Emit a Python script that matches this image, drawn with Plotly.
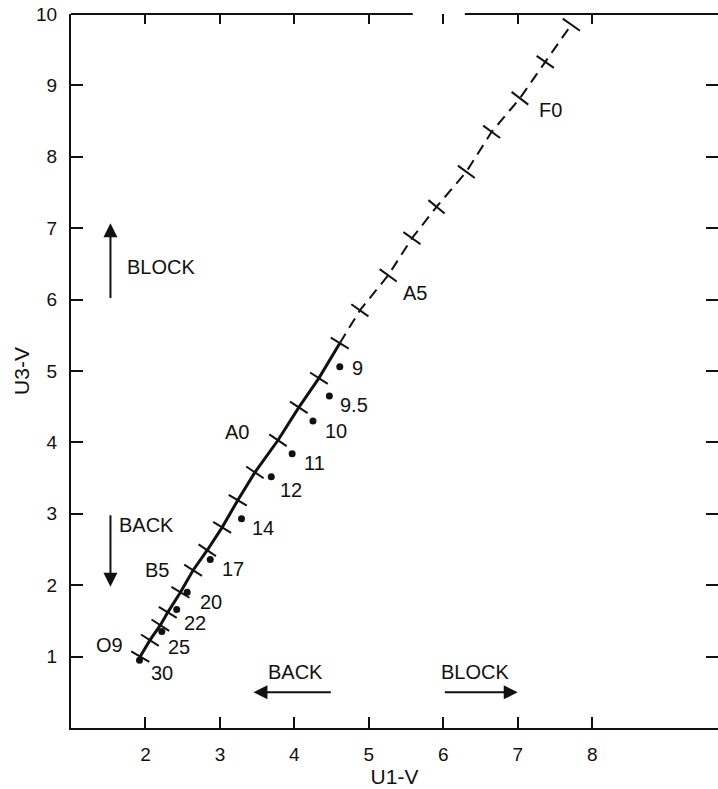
import numpy as np
import plotly.graph_objects as go

# ---------------- data ----------------
# main-sequence locus (positions of the spectral-type tick marks)
locus_x = [1.93, 2.06, 2.20, 2.30, 2.47, 2.64, 2.83, 3.03, 3.24, 3.47, 3.78, 4.06,
           4.33, 4.61, 4.88, 5.26, 5.58, 5.91, 6.31, 6.65, 7.03, 7.37, 7.72]
locus_y = [1.00, 1.23, 1.44, 1.62, 1.90, 2.21, 2.49, 2.81, 3.19, 3.58, 4.03, 4.49,
           4.90, 5.39, 5.85, 6.34, 6.86, 7.30, 7.79, 8.35, 8.82, 9.33, 9.85]
solid_last = 13                     # locus is solid up to this index, dashed after

spectral_types = ["O9", "B5", "A0", "A5", "F0"]
spectral_index = [0, 5, 10, 15, 20]

# observed points with their labels
star_x = [4.61, 4.47, 4.25, 3.97, 3.69, 3.29, 2.87, 2.56, 2.42, 2.22, 1.92]
star_y = [5.06, 4.65, 4.30, 3.84, 3.52, 2.93, 2.36, 1.90, 1.66, 1.35, 0.95]
star_labels = ["9", "9.5", "10", "11", "12", "14", "17", "20", "22", "25", "30"]

x_ticks = [2, 3, 4, 5, 6, 7, 8]
y_ticks = [1, 2, 3, 4, 5, 6, 7, 8, 9, 10]
right_ticks = [1, 2, 3, 4, 5, 6, 7, 8, 9]

x_title = "U1-V"
y_title = "U3-V"

# ---------------- layout geometry / style ----------------
W, H = 718, 789
M = dict(l=71, r=0, t=14, b=61)
x_range = [1, 9.69]
y_range = [0, 10]
INK = "#111111"
FONT = "Liberation Sans, Arial, sans-serif"

px_x = (W - M["l"] - M["r"]) / (x_range[1] - x_range[0])
px_y = (H - M["t"] - M["b"]) / (y_range[1] - y_range[0])

lx = np.array(locus_x)
ly = np.array(locus_y)
line_angle = np.degrees(np.arctan2(np.gradient(ly) * px_y, np.gradient(lx) * px_x))
tick_angle = (90 - line_angle).tolist()

# label offsets in pixels (dx right, dy down) relative to the dot
star_off = [(10, 1), (9, 9), (10, 10), (10, 9), (7, 13), (8, 9), (10, 9),
            (11, 10), (5, 14), (4, 15), (9, 13)]
spec_off = [(-31, -12), (-36, 0), (-41, -8), (27, 18), (31, 12)]

fig = go.Figure()

fig.add_trace(go.Scatter(
    x=locus_x[:solid_last + 1], y=locus_y[:solid_last + 1], mode="lines",
    line=dict(color=INK, width=3), hoverinfo="skip", showlegend=False))
fig.add_trace(go.Scatter(
    x=locus_x[solid_last:], y=locus_y[solid_last:], mode="lines",
    line=dict(color=INK, width=2, dash="11px,7px"), hoverinfo="skip", showlegend=False))
fig.add_trace(go.Scatter(
    x=locus_x, y=locus_y, mode="markers",
    marker=dict(symbol="line-ew", size=15, angle=tick_angle,
                line=dict(color=INK, width=2)),
    hoverinfo="skip", showlegend=False))
fig.add_trace(go.Scatter(
    x=star_x, y=star_y, mode="markers",
    marker=dict(symbol="circle", size=7, color=INK),
    showlegend=False))
# empty trace so the mirrored tick axes are drawn
fig.add_trace(go.Scatter(x=[], y=[], xaxis="x2", yaxis="y2", showlegend=False))

ann = []
for xv, yv, t, (dx, dy) in zip(star_x, star_y, star_labels, star_off):
    ann.append(dict(x=xv, y=yv, text=t, showarrow=False, xanchor="left",
                    yanchor="middle", xshift=dx, yshift=-dy,
                    font=dict(size=20, color=INK, family=FONT)))
for t, i, (dx, dy) in zip(spectral_types, spectral_index, spec_off):
    ann.append(dict(x=locus_x[i], y=locus_y[i], text=t, showarrow=False,
                    xanchor="center", yanchor="middle", xshift=dx, yshift=-dy,
                    font=dict(size=20, color=INK, family=FONT)))

# direction arrows: (tail, head) in data units
arrows = [((1.53, 6.00), (1.53, 7.07)),
          ((1.53, 3.00), (1.53, 1.98)),
          ((4.51, 0.50), (3.45, 0.50)),
          ((6.00, 0.50), (7.00, 0.50))]
for (tx, ty), (hx, hy) in arrows:
    ann.append(dict(x=hx, y=hy, ax=tx, ay=ty, xref="x", yref="y", axref="x", ayref="y",
                    text="", showarrow=True, arrowhead=2, arrowsize=1.4,
                    arrowwidth=2, arrowcolor=INK, standoff=0))
arrow_text = [("BLOCK", 1.73, 6.45, "left"), ("BACK", 1.62, 2.85, "left"),
              ("BACK", 4.02, 0.78, "center"), ("BLOCK", 6.43, 0.79, "center")]
for t, xv, yv, xa in arrow_text:
    ann.append(dict(x=xv, y=yv, text=t, showarrow=False, xanchor=xa, yanchor="middle",
                    font=dict(size=20, color=INK, family=FONT)))

# top frame line has a gap in the reference
top_gap = (5.59, 6.29)
shapes = [
    dict(type="line", xref="x", yref="paper", x0=x_range[0], x1=top_gap[0], y0=1, y1=1,
         line=dict(color=INK, width=2)),
    dict(type="line", xref="x", yref="paper", x0=top_gap[1], x1=x_range[1], y0=1, y1=1,
         line=dict(color=INK, width=2)),
]

axis_common = dict(showgrid=False, zeroline=False, automargin=False, fixedrange=True)
fig.update_layout(
    width=W, height=H, margin=M,
    paper_bgcolor="white", plot_bgcolor="white",
    font=dict(family=FONT, color=INK),
    xaxis=dict(range=x_range, showline=True, linecolor=INK, linewidth=2,
               ticks="inside", ticklen=11, tickwidth=2, tickcolor=INK,
               tickvals=x_ticks, tickfont=dict(size=19), ticklabelstandoff=8,
               title=dict(text=x_title, font=dict(size=21), standoff=6),
               **axis_common),
    yaxis=dict(range=y_range, showline=True, linecolor=INK, linewidth=2,
               ticks="inside", ticklen=12, tickwidth=2, tickcolor=INK,
               tickvals=y_ticks, tickfont=dict(size=19), ticklabelstandoff=8,
               title=dict(text=y_title, font=dict(size=21), standoff=1),
               **axis_common),
    xaxis2=dict(overlaying="x", side="top", matches="x", range=x_range,
                showline=False, ticks="inside", ticklen=10, tickwidth=2,
                tickcolor=INK, tickvals=x_ticks, showticklabels=False, **axis_common),
    yaxis2=dict(overlaying="y", side="right", matches="y", range=y_range,
                showline=False, ticks="inside", ticklen=12, tickwidth=2,
                tickcolor=INK, tickvals=right_ticks, showticklabels=False, **axis_common),
    annotations=ann, shapes=shapes, showlegend=False,
)

# remove the browser's default 8px body margin so the figure fills the window
fig.write_html("out.html",
               config={"displayModeBar": False, "staticPlot": True},
               post_script="document.body.style.margin='0px';document.body.style.overflow='hidden';")
